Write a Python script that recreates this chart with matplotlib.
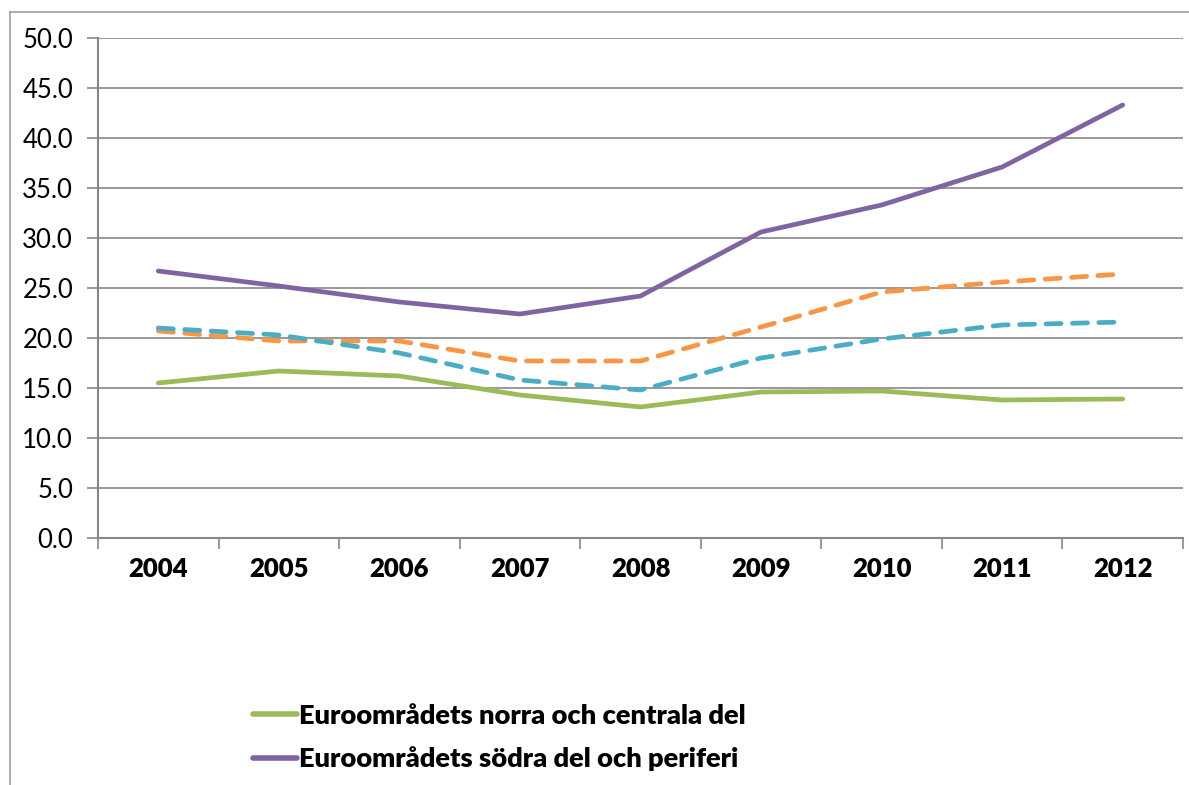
import matplotlib
matplotlib.use("Agg")
import matplotlib.pyplot as plt
from matplotlib.lines import Line2D

years = ["2004", "2005", "2006", "2007", "2008", "2009", "2010", "2011", "2012"]
north_central = [15.5, 16.7, 16.2, 14.3, 13.1, 14.6, 14.7, 13.8, 13.9]
south_periphery = [26.7, 25.2, 23.6, 22.4, 24.2, 30.6, 33.3, 37.1, 43.3]
orange_dashed = [20.7, 19.7, 19.7, 17.7, 17.7, 21.1, 24.6, 25.6, 26.4]
blue_dashed = [21.0, 20.3, 18.5, 15.8, 14.8, 18.0, 19.9, 21.3, 21.6]
legend_labels = ["Euroområdets norra och centrala del", "Euroområdets södra del och periferi"]
yticks = [0, 5, 10, 15, 20, 25, 30, 35, 40, 45, 50]

plt.rcParams['font.family'] = ['Lato', 'DejaVu Sans']

W, H = 1189, 785
fig = plt.figure(figsize=(W / 100, H / 100), dpi=100)
ax = fig.add_axes([98 / W, 1 - 538 / H, (1183 - 98) / W, (538 - 38) / H])

x = list(range(len(years)))
GREEN = "#9BBB59"
PURPLE = "#8064A2"
ORANGE = "#F79646"
BLUE = "#4BACC6"

LW = 3.4
ax.plot(x, orange_dashed, color=ORANGE, lw=LW, dashes=(3.2, 2.4), dash_capstyle='round', zorder=3)
ax.plot(x, blue_dashed, color=BLUE, lw=LW, dashes=(3.2, 2.4), dash_capstyle='round', zorder=3)
ax.plot(x, north_central, color=GREEN, lw=LW, solid_capstyle='round', zorder=4)
ax.plot(x, south_periphery, color=PURPLE, lw=LW, solid_capstyle='round', zorder=4)

ax.set_xlim(-0.5, len(years) - 0.5)
ax.set_ylim(0, 50)
ax.set_yticks(yticks)
ax.set_yticklabels([f"{v:.1f}" for v in yticks], fontsize=18.5)
ax.yaxis.grid(True, color="#878787", lw=1.2)
ax.set_axisbelow(True)

ax.set_xticks(x)
ax.set_xticklabels(years, fontsize=18.5, fontweight='heavy')
ax.set_xticks([i - 0.5 for i in range(len(years) + 1)], minor=True)
ax.tick_params(axis='x', which='major', length=0, pad=14)
ax.tick_params(axis='x', which='minor', length=8, color="#878787", width=1.2)
ax.tick_params(axis='y', length=8, color="#878787", width=1.2, pad=10)

for s in ['top', 'right']:
    ax.spines[s].set_visible(False)
for s in ['left', 'bottom']:
    ax.spines[s].set_color("#878787")
    ax.spines[s].set_linewidth(1.5)

handles = [Line2D([], [], color=GREEN, lw=4, solid_capstyle='round'),
           Line2D([], [], color=PURPLE, lw=4, solid_capstyle='round')]
fig.legend(handles, legend_labels, loc='upper left',
           bbox_to_anchor=(253 / W, 1 - 704 / H), frameon=False,
           prop={'size': 19.6, 'weight': 'heavy'}, handlelength=1.6,
           handletextpad=0.1, labelspacing=0.68, borderpad=0, borderaxespad=0)

# outer chart-area border (left and top edges visible)
fig.add_artist(Line2D([10 / W, 10 / W], [0, 1 - 12 / H], color="#A0A0A0", lw=1.2, transform=fig.transFigure))
fig.add_artist(Line2D([10 / W, 1], [1 - 12 / H, 1 - 12 / H], color="#A0A0A0", lw=1.2, transform=fig.transFigure))

fig.savefig("out.png", dpi=100)
